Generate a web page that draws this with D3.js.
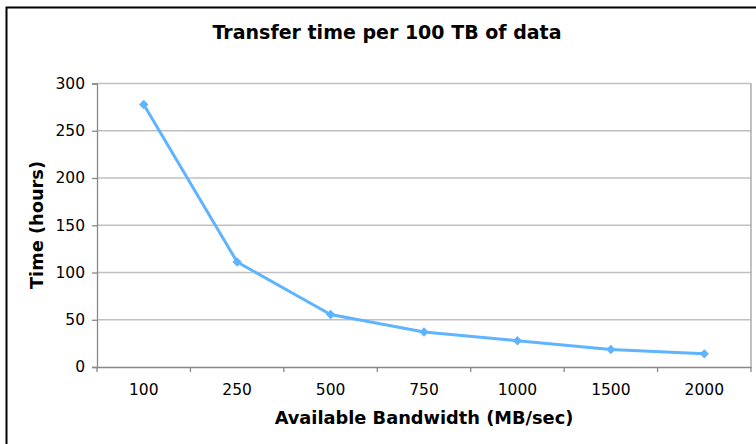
<!DOCTYPE html>
<html><head><meta charset="utf-8">
<script src="https://cdn.jsdelivr.net/npm/d3@7"></script>
<style>body{margin:0;background:#fff}svg{display:block}</style>
</head><body><svg id="c" width="756" height="444"></svg>
<script>
const categories = ["100","250","500","750","1000","1500","2000"];
const values = [277.8, 111.1, 55.6, 37.0, 27.8, 18.5, 13.9];
const yTicks = [0,50,100,150,200,250,300];
const title = "Transfer time per 100 TB of data";
const xTitle = "Available Bandwidth (MB/sec)";
const yTitle = "Time (hours)";

const svg = d3.select("#c");
const font = "'DejaVu Sans', Verdana, sans-serif";
const m = {left:97, top:83.5, right:751, bottom:367};

svg.append("rect").attr("x",6.5).attr("y",7.5).attr("width",800).attr("height",500)
  .attr("fill","none").attr("stroke","#000").attr("stroke-width",2);

const x = d3.scaleBand().domain(categories).range([m.left,m.right]);
const y = d3.scaleLinear().domain([0,300]).range([m.bottom,m.top]);

// gridlines
svg.append("g").selectAll("line").data(yTicks.filter(d=>d>0)).join("line")
  .attr("x1",m.left).attr("x2",m.right).attr("y1",d=>y(d)).attr("y2",d=>y(d))
  .attr("stroke","#c0c0c0").attr("stroke-width",1.3);
// right border
svg.append("line").attr("x1",m.right).attr("x2",m.right).attr("y1",m.top).attr("y2",m.bottom)
  .attr("stroke","#a0a0a0").attr("stroke-width",1.3);

// y axis
const ya = svg.append("g").attr("transform",`translate(${m.left},0)`)
  .call(d3.axisLeft(y).tickValues(yTicks).tickSize(5).tickPadding(7));
ya.select(".domain").attr("stroke","#888").attr("stroke-width",1.3);
ya.selectAll(".tick line").attr("stroke","#888").attr("stroke-width",1.3);
ya.selectAll("text").attr("font-family",font).attr("font-size",15.5).attr("fill","#000");

// x axis
const xa = svg.append("g").attr("transform",`translate(0,${m.bottom})`)
  .call(d3.axisBottom(x).tickSize(0).tickPadding(17));
xa.select(".domain").attr("stroke","#888").attr("stroke-width",1.3);
xa.selectAll("text").attr("font-family",font).attr("font-size",15.5).attr("fill","#000");
const bounds = categories.map(c=>x(c)).concat([m.right]);
xa.append("g").selectAll("line").data(bounds).join("line")
  .attr("x1",d=>d).attr("x2",d=>d).attr("y1",0).attr("y2",5)
  .attr("stroke","#888").attr("stroke-width",1.3);

// line
const color = "#5fb4ff";
const line = d3.line().x((d,i)=>x(categories[i])+x.bandwidth()/2).y(d=>y(d));
svg.append("path").datum(values).attr("d",line).attr("fill","none")
  .attr("stroke",color).attr("stroke-width",3).attr("stroke-linejoin","round");
svg.append("g").selectAll("path").data(values).join("path")
  .attr("d",d3.symbol(d3.symbolSquare,44))
  .attr("transform",(d,i)=>`translate(${x(categories[i])+x.bandwidth()/2},${y(d)}) rotate(45)`)
  .attr("fill",color);

// titles
svg.append("text").attr("x",387).attr("y",39).attr("text-anchor","middle")
  .attr("font-family",font).attr("font-weight","bold").attr("font-size",19).text(title);
svg.append("text").attr("x",424).attr("y",424).attr("text-anchor","middle")
  .attr("font-family",font).attr("font-weight","bold").attr("font-size",17.8).text(xTitle);
svg.append("text").attr("transform","translate(43,225) rotate(-90)").attr("text-anchor","middle")
  .attr("font-family",font).attr("font-weight","bold").attr("font-size",17.8).text(yTitle);
</script></body></html>
